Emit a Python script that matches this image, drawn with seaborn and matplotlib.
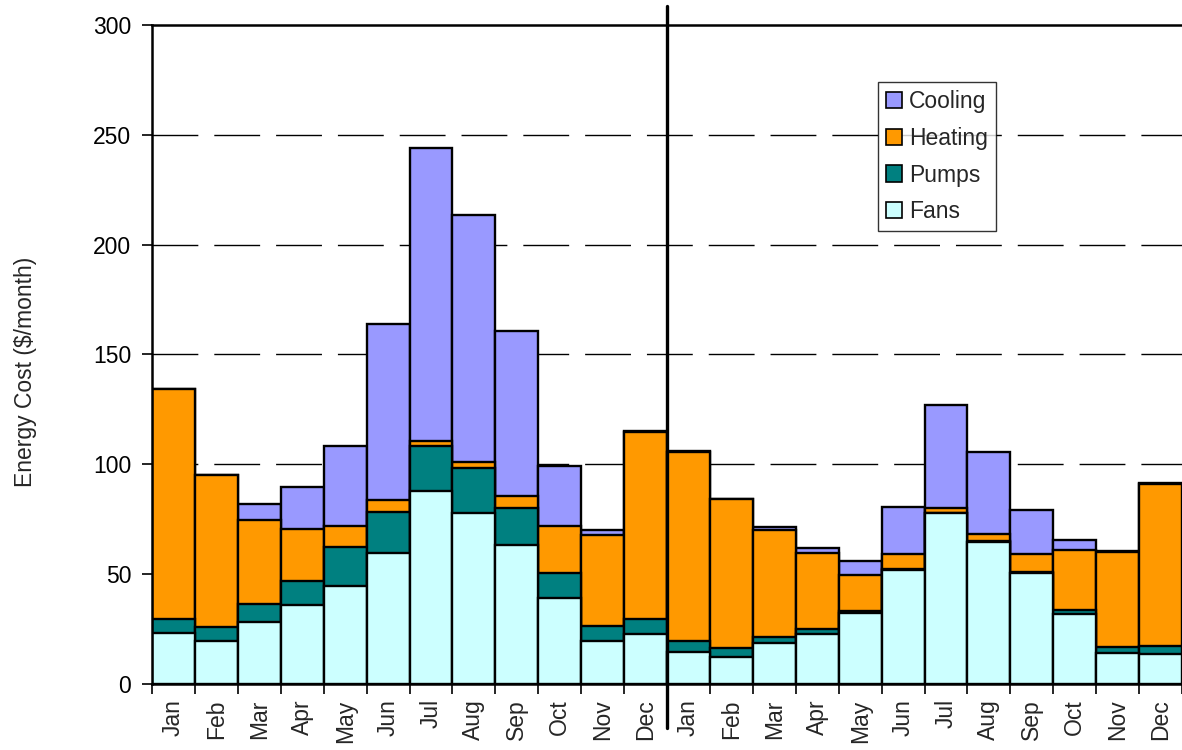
import numpy as np
import pandas as pd
import matplotlib
matplotlib.use("Agg")
import matplotlib.pyplot as plt
from matplotlib.patches import Patch
import seaborn as sns

months = ["Jan", "Feb", "Mar", "Apr", "May", "Jun",
          "Jul", "Aug", "Sep", "Oct", "Nov", "Dec"]
tick_labels = months + months
series_names = ["Cooling", "Heating", "Pumps", "Fans"]

fans = [23.0, 19.7, 28.1, 35.8, 44.8, 59.5, 88.0, 77.8, 63.1, 39.2, 19.4, 22.9,
        14.7, 12.1, 18.5, 22.6, 32.2, 51.9, 77.7, 64.8, 50.7, 31.7, 14.0, 13.5]
pumps = [6.6, 6.1, 8.2, 10.9, 17.7, 18.9, 20.3, 20.3, 16.8, 11.4, 6.8, 6.6,
         4.9, 4.4, 3.0, 2.6, 1.0, 0.3, 0.2, 0.2, 0.5, 2.0, 3.0, 4.0]
heating = [104.5, 69.5, 38.4, 24.0, 9.6, 5.3, 2.5, 2.9, 5.6, 21.5, 41.8, 85.2,
           86.2, 67.7, 48.6, 34.3, 16.6, 7.0, 2.4, 3.3, 8.0, 27.1, 43.1, 73.7]
cooling = [0.0, 0.0, 7.2, 19.1, 36.2, 80.2, 133.2, 112.5, 75.3, 27.3, 2.1, 0.4,
           0.3, 0.0, 1.5, 2.6, 6.2, 21.4, 46.7, 37.3, 19.9, 4.9, 0.5, 0.3]

colors = {"Cooling": "#9999FF", "Heating": "#FF9900",
          "Pumps": "#008080", "Fans": "#CCFFFF"}

sns.set_style("white")
plt.rcParams["font.family"] = ["Liberation Sans", "DejaVu Sans"]

keys = [f"{m}-{i // 12}" for i, m in enumerate(tick_labels)]
df = pd.DataFrame({"key": keys, "Fans": fans, "Pumps": pumps,
                   "Heating": heating, "Cooling": cooling})
df["c_fans"] = df["Fans"]
df["c_pumps"] = df["c_fans"] + df["Pumps"]
df["c_heat"] = df["c_pumps"] + df["Heating"]
df["c_cool"] = df["c_heat"] + df["Cooling"]

fig = plt.figure(figsize=(11.82, 7.5), dpi=100)
ax = fig.add_axes([0.1286, 0.088, 0.8714, 0.8787])

for col, name in [("c_cool", "Cooling"), ("c_heat", "Heating"),
                  ("c_pumps", "Pumps"), ("c_fans", "Fans")]:
    sns.barplot(data=df, x="key", y=col, order=keys, color=colors[name],
                width=1.0, edgecolor="black", linewidth=1.7,
                saturation=1, ax=ax, errorbar=None)

ax.set_xlim(-0.5, 23.5)
ax.set_ylim(0, 300)
ax.set_yticks(np.arange(0, 301, 50))
ax.tick_params(axis="y", direction="out", length=7, width=1.2,
               labelsize=16.5, pad=8, left=True, colors="black")
ax.set_xticks(np.arange(24))
ax.set_xticklabels(tick_labels, rotation=90, fontsize=16.5)
ax.set_xticks(np.arange(-0.5, 24, 1), minor=True)
ax.tick_params(axis="x", which="major", length=0, pad=11)
ax.tick_params(axis="x", which="minor", direction="out", length=7,
               width=1.2, bottom=True, colors="black")
ax.set_xlabel("")
ax.set_ylabel("Energy Cost ($/month)", fontsize=16.5)
ax.yaxis.set_label_coords(-0.112, 0.473)

for yv in range(50, 300, 50):
    ax.axhline(yv, color="black", lw=1.0, linestyle=(0, (33, 11.5)),
               zorder=0.5)
ax.set_axisbelow(True)

for side in ["left", "bottom", "top"]:
    ax.spines[side].set_visible(True)
    ax.spines[side].set_color("black")
    ax.spines[side].set_linewidth(1.8)
ax.spines["right"].set_visible(False)

ax.plot([11.5, 11.5], [1.029, -0.067], color="black", lw=2.4,
        transform=ax.get_xaxis_transform(), clip_on=False, zorder=10)

handles = [Patch(facecolor=colors[n], edgecolor="black", linewidth=1.2)
           for n in series_names]
leg = ax.legend(handles, series_names, loc="upper left",
                bbox_to_anchor=(0.705, 0.9135), borderaxespad=0,
                fontsize=16.5, frameon=True, fancybox=False,
                handlelength=0.7, handleheight=0.7, handletextpad=0.3,
                labelspacing=0.6, borderpad=0.35)
leg.get_frame().set_edgecolor("black")
leg.get_frame().set_linewidth(1.0)

fig.savefig("out.png", dpi=100)
